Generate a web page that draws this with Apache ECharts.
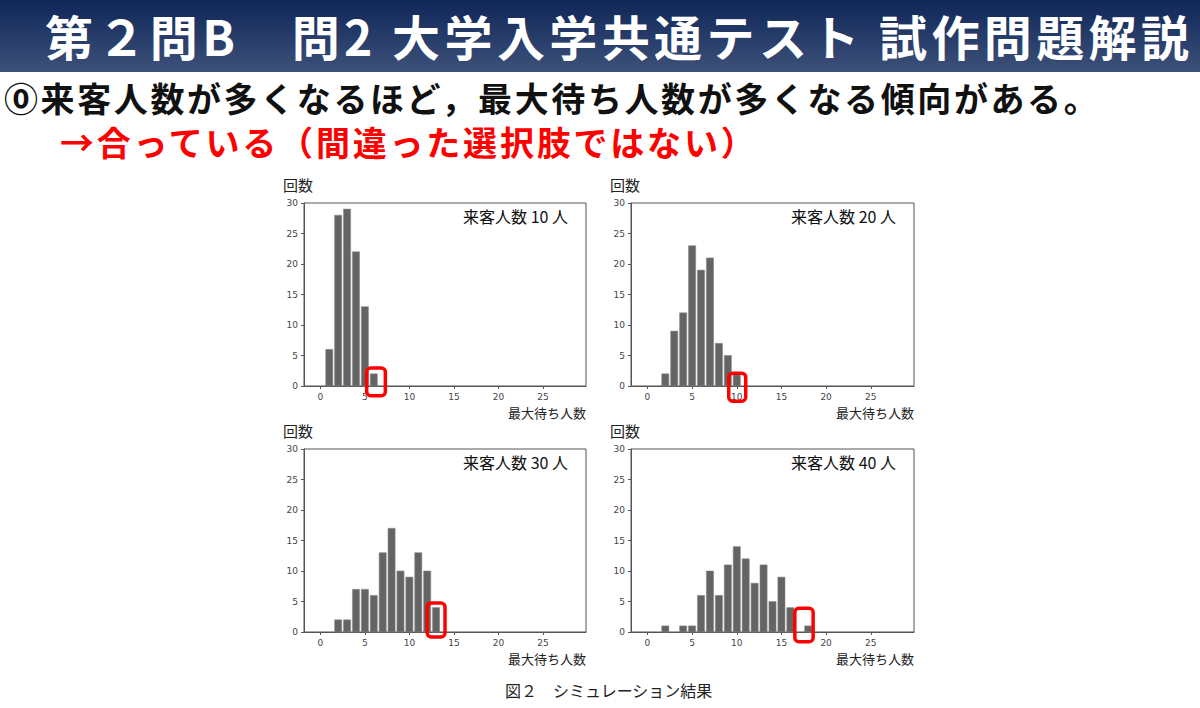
<!DOCTYPE html>
<html>
<head>
<meta charset="utf-8">
<script src="https://cdn.jsdelivr.net/npm/echarts/dist/echarts.min.js"></script>
<style>
  html, body { margin: 0; padding: 0; background: #fff; }
  body { width: 1200px; height: 708px; position: relative; overflow: hidden; font-family: "Noto Sans CJK JP", sans-serif; }
  .banner { position: absolute; left: 0; top: 0; width: 1200px; height: 72px; background: linear-gradient(#0f2658, #3d5179); }
  .banner span { position: absolute; left: 45px; top: 4px; color: #fff; font-size: 48px; font-weight: bold; line-height: 62px; white-space: nowrap; letter-spacing: 4.4px; }
  .line1 { position: absolute; left: 4px; top: 79px; font-size: 34px; font-weight: bold; color: #111; line-height: 38px; white-space: nowrap; letter-spacing: 2.6px; }
  .line2 { position: absolute; left: 60px; top: 123px; font-size: 34px; font-weight: bold; color: #f00; line-height: 38px; white-space: nowrap; letter-spacing: 2.8px; }
  #chart { position: absolute; left: 0; top: 0; width: 1200px; height: 708px; }
</style>
</head>
<body>
<div id="chart"></div>
<div class="banner"><span>第２問B　問2 大学入学共通テスト 試作問題解説</span></div>
<div class="line1">⓪来客人数が多くなるほど，最大待ち人数が多くなる傾向がある。</div>
<div class="line2">→合っている（間違った選択肢ではない）</div>
<script>
// 最大待ち人数 (x) と回数 (y)
const wait10 = [1, 2, 3, 4, 5, 6]
const count10 = [6, 28, 29, 22, 13, 2]
const wait20 = [2, 3, 4, 5, 6, 7, 8, 9, 10]
const count20 = [2, 9, 12, 23, 19, 21, 7, 5, 2]
const wait30 = [2, 3, 4, 5, 6, 7, 8, 9, 10, 11, 12, 13]
const count30 = [2, 2, 7, 7, 6, 13, 17, 10, 9, 13, 10, 4]
const wait40 = [2, 4, 5, 6, 7, 8, 9, 10, 11, 12, 13, 14, 15, 16, 18]
const count40 = [1, 1, 1, 6, 10, 6, 11, 14, 12, 8, 11, 5, 9, 4, 1]
const panelTitles = ['来客人数 10 人', '来客人数 20 人', '来客人数 30 人', '来客人数 40 人']
const xTicks = [0, 5, 10, 15, 20, 25]

// red marker boxes, in data units: [x0, x1, y0, y1]
const marks = [[5.2, 7.3, -1.6, 2.95], [9.1, 11.0, -2.5, 2.1], [12.0, 14.0, -0.8, 4.75], [16.5, 18.55, -1.6, 3.9]]

const panels = [
  { xs: wait10, ys: count10, left: 304, top: 203, width: 282 },
  { xs: wait20, ys: count20, left: 631, top: 203, width: 283 },
  { xs: wait30, ys: count30, left: 304, top: 449, width: 282 },
  { xs: wait40, ys: count40, left: 631, top: 449, width: 283 }
]
const plotH = 183
const axisColor = '#555'
const labelStyle = { fontSize: 9, color: '#444', fontFamily: 'DejaVu Sans' }

var grid = [], xAxis = [], yAxis = [], series = [], graphic = []
panels.forEach((p, i) => {
  grid.push({ left: p.left, top: p.top, width: p.width, height: plotH, show: true, borderColor: axisColor, borderWidth: 1, backgroundColor: 'transparent' })
  xAxis.push({
    type: 'value', gridIndex: i, min: -1.84, max: 29.84,
    axisLine: { show: true, onZero: false, lineStyle: { color: axisColor } }, splitLine: { show: false },
    axisTick: { show: true, length: 3, lineStyle: { color: axisColor }, customValues: xTicks },
    axisLabel: { ...labelStyle, margin: 6, customValues: xTicks }
  })
  yAxis.push({
    type: 'value', gridIndex: i, min: 0, max: 30, interval: 5,
    axisLine: { show: true, onZero: false, lineStyle: { color: axisColor } }, splitLine: { show: false },
    axisTick: { show: true, length: 3, lineStyle: { color: axisColor } },
    axisLabel: { ...labelStyle, margin: 6 }
  })
  series.push({
    type: 'custom', xAxisIndex: i, yAxisIndex: i,
    data: p.xs.map((x, k) => [x, p.ys[k]]),
    renderItem: (params, api) => {
      const x = api.value(0), y = api.value(1)
      const a = api.coord([x - 0.4, y]), b = api.coord([x + 0.4, 0])
      return { type: 'rect', shape: { x: a[0], y: a[1], width: b[0] - a[0], height: b[1] - a[1] }, style: { fill: '#646464', stroke: '#8a8a8a', lineWidth: 0.6 } }
    }
  })
  series.push({
    type: 'custom', xAxisIndex: i, yAxisIndex: i, clip: false, z: 5,
    data: [marks[i]],
    renderItem: (params, api) => {
      const a = api.coord([api.value(0), api.value(3)]), b = api.coord([api.value(1), api.value(2)])
      return { type: 'rect', shape: { x: a[0], y: a[1], width: b[0] - a[0], height: b[1] - a[1], r: 4 }, style: { fill: 'none', stroke: '#f00', lineWidth: 3.5 } }
    }
  })
  graphic.push({ type: 'text', left: p.left - 21, top: p.top - 26, style: { text: '回数', fontSize: 15, fill: '#222', fontFamily: 'Noto Sans CJK JP' } })
  graphic.push({ type: 'text', right: 1200 - (p.left + p.width), top: p.top + plotH + 20, style: { text: '最大待ち人数', fontSize: 13, fill: '#222', fontFamily: 'Noto Sans CJK JP' } })
  graphic.push({ type: 'text', right: 1200 - (p.left + p.width) + 18, top: p.top + 5, style: { text: panelTitles[i], fontSize: 16, fill: '#111', fontFamily: 'Noto Sans CJK JP' } })
})
graphic.push({ type: 'text', left: 505, top: 682, style: { text: '図２　シミュレーション結果', fontSize: 16, fill: '#222', fontFamily: 'Noto Sans CJK JP' } })

var chart = echarts.init(document.getElementById('chart'), null, { renderer: 'svg' })
chart.setOption({ animation: false, grid: grid, xAxis: xAxis, yAxis: yAxis, series: series, graphic: graphic })
</script>
</body>
</html>
